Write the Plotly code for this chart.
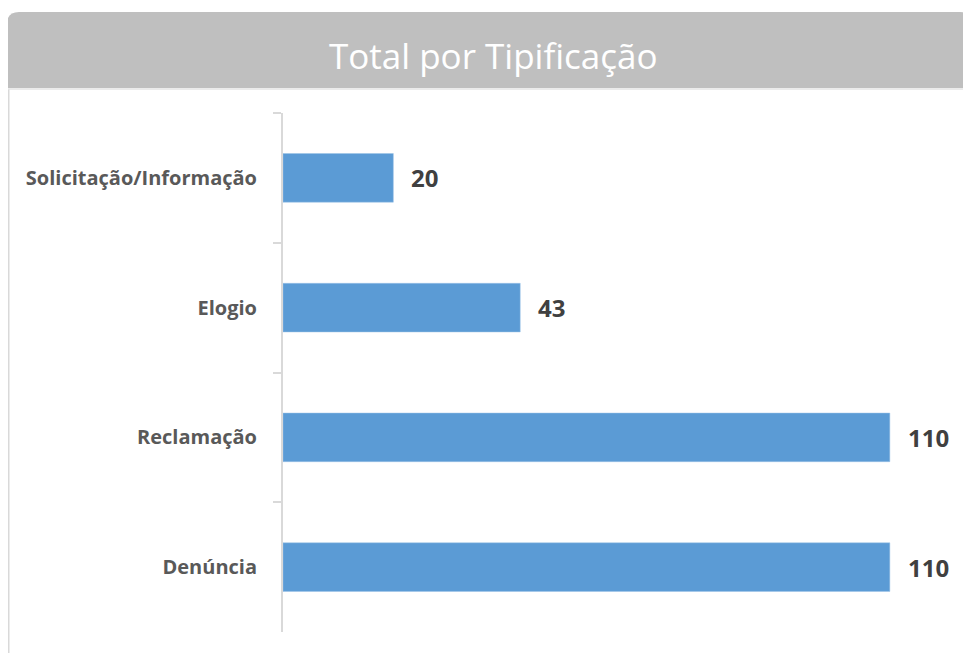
import plotly.graph_objects as go

categories = ["Solicitação/Informação", "Elogio", "Reclamação", "Denúncia"]
values = [20, 43, 110, 110]
title_text = "Total por Tipificação"

OFF = 8  # page body margin
W, H = 971 - OFF, 653 - OFF
ML, MR, MT, MB = 283 - OFF, 26, 113 - OFF, 21
PW = W - ML - MR
PH = H - MT - MB

def px(x):
    return (x - OFF - ML) / PW

def py(y):
    return (H - MB - (y - OFF)) / PH

fig = go.Figure()
fig.add_trace(go.Bar(
    y=categories, x=values, orientation="h",
    marker=dict(color="#5B9BD5", line=dict(color="#9DC3E6", width=0.5)),
    width=0.375, showlegend=False, hoverinfo="skip",
))

for c, v in zip(categories, values):
    fig.add_annotation(x=v, y=c, xref="x", yref="y", text=str(v), showarrow=False,
                       xanchor="left", xshift=16,
                       font=dict(family="Open Sans", size=24, color="#404040", weight="bold"))

# rounded title bar
x0, x1, y0, y1, r = 7, 972, 12, 88, 12
path = (f"M {px(x0)},{py(y1)} L {px(x0)},{py(y0+r)} "
        f"Q {px(x0)},{py(y0)} {px(x0+r)},{py(y0)} "
        f"L {px(x1-r)},{py(y0)} Q {px(x1)},{py(y0)} {px(x1)},{py(y0+r)} "
        f"L {px(x1)},{py(y1)} Z")
fig.add_shape(type="path", path=path, xref="paper", yref="paper",
              fillcolor="#BFBFBF", line=dict(width=0), layer="below")
# borders
fig.add_shape(type="line", xref="paper", yref="paper",
              x0=px(8.5), x1=px(8.5), y0=py(89), y1=py(660),
              line=dict(color="#D9D9D9", width=2))
fig.add_shape(type="line", xref="paper", yref="paper",
              x0=px(7), x1=px(972), y0=py(89), y1=py(89),
              line=dict(color="#E4E4E4", width=1.5))

fig.add_annotation(x=px(493), y=py(55), xref="paper", yref="paper", text=title_text,
                   showarrow=False, xanchor="center", yanchor="middle",
                   font=dict(family="Open Sans", size=35, color="#FFFFFF"))

fig.update_layout(
    width=W, height=H,
    margin=dict(l=ML, r=MR, t=MT, b=MB, autoexpand=False),
    paper_bgcolor="white", plot_bgcolor="white",
    xaxis=dict(range=[0, 120], visible=False, fixedrange=True),
    yaxis=dict(type="category", autorange="reversed", tickson="boundaries",
               ticks="outside", ticklen=8, tickcolor="#D9D9D9", tickwidth=2,
               showline=True, linecolor="#D9D9D9", linewidth=2, showgrid=False,
               ticklabelstandoff=20,
               tickfont=dict(family="Open Sans", size=20, color="#595959", weight="bold")),
)

fig.write_html("out.html")
